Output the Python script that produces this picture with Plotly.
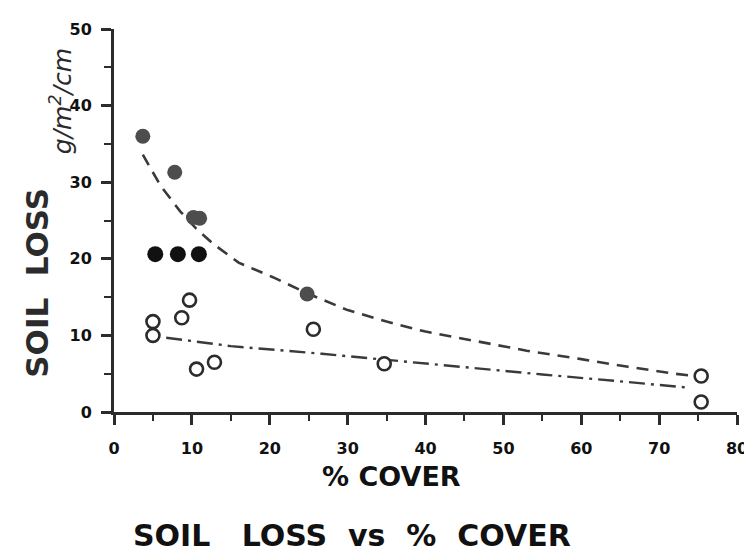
import plotly.graph_objects as go

# puntos llenos (gris) y llenos (negro)
full_grey_x = [3.7, 7.8, 10.2, 11.0, 24.8]
full_grey_y = [36.0, 31.3, 25.4, 25.3, 15.4]
full_black_x = [5.3, 8.2, 10.9]
full_black_y = [20.6, 20.6, 20.6]

# puntos abiertos
open_x = [9.7, 8.7, 5.0, 5.0, 10.6, 12.9, 25.6, 34.7, 75.4, 75.4]
open_y = [14.6, 12.3, 11.8, 10.0, 5.6, 6.5, 10.8, 6.3, 4.7, 1.3]

# curva de trazos
dash_x = [3.7, 6, 8.5, 10.5, 12.8, 16, 20.4, 24.8, 30, 35, 40, 47, 53, 60, 66, 72, 75.4]
dash_y = [33.6, 29.5, 26.2, 24.0, 21.9, 19.5, 17.6, 15.5, 13.3, 11.8, 10.5, 9.1, 8.0, 6.9, 5.9, 5.0, 4.6]

# curva punto-raya
dashdot_x = [6.7, 15, 26.7, 36, 45, 55, 65, 73.5]
dashdot_y = [9.7, 8.6, 7.6, 6.7, 5.9, 4.9, 4.0, 3.2]

x_ticks = [0, 10, 20, 30, 40, 50, 60, 70, 80]
y_ticks = [0, 10, 20, 30, 40, 50]

ink = '#2b2b2b'
fnt = 'DejaVu Sans'
nb = '\u00a0'

fig = go.Figure()
fig.add_trace(go.Scatter(x=dash_x, y=dash_y, mode='lines',
                         line=dict(color='#3a3a3a', width=2.6, dash='12px,8px')))
fig.add_trace(go.Scatter(x=dashdot_x, y=dashdot_y, mode='lines',
                         line=dict(color='#3a3a3a', width=2.4, dash='16px,6px,3px,6px')))
fig.add_trace(go.Scatter(x=full_grey_x, y=full_grey_y, mode='markers',
                         marker=dict(size=15, color='#4d4d4d', line=dict(width=0))))
fig.add_trace(go.Scatter(x=full_black_x, y=full_black_y, mode='markers',
                         marker=dict(size=16, color='#111111', line=dict(width=0))))
fig.add_trace(go.Scatter(x=open_x, y=open_y, mode='markers',
                         marker=dict(size=13, color='white', line=dict(width=2.6, color=ink))))

fig.update_layout(
    width=752, height=556,
    margin=dict(l=106, r=14, t=14, b=152),
    paper_bgcolor='white', plot_bgcolor='white',
    showlegend=False,
    font=dict(family=fnt, color=ink),
    xaxis=dict(
        range=[0, 80], tickvals=x_ticks, ticks='outside', ticklen=10, tickwidth=2.5,
        tickcolor=ink, showline=True, linewidth=3, linecolor=ink, showgrid=False,
        zeroline=False, ticklabelstandoff=10,
        tickfont=dict(family=fnt, size=16, color='#111', weight='bold'),
        minor=dict(dtick=5, ticks='outside', ticklen=6, tickwidth=2, tickcolor=ink),
    ),
    yaxis=dict(
        range=[0, 50], tickvals=y_ticks, ticks='outside', ticklen=10, tickwidth=2.5,
        tickcolor=ink, showline=True, linewidth=3, linecolor=ink, showgrid=False,
        zeroline=False, ticklabelstandoff=6,
        tickfont=dict(family=fnt, size=16, color='#111', weight='bold'),
        minor=dict(dtick=5, ticks='outside', ticklen=7, tickwidth=2, tickcolor=ink),
    ),
)

fig.add_annotation(text='SOIL' + nb * 2 + 'LOSS', textangle=-90, xref='paper', yref='paper',
                   x=-98/632, y=(404-272)/390, xanchor='left', yanchor='middle',
                   showarrow=False, font=dict(family=fnt, size=31, color=ink, weight='bold'))
fig.add_annotation(text='<i>g/m<sup>2</sup>/cm</i>', textangle=-90, xref='paper', yref='paper',
                   x=-72/632, y=(404-88)/390, xanchor='left', yanchor='middle',
                   showarrow=False, font=dict(family=fnt, size=25, color=ink))
fig.add_annotation(text='%' + nb + 'COVER', xref='paper', yref='paper',
                   x=(388-106)/632, y=-(470-404)/390, xanchor='center', yanchor='middle',
                   showarrow=False, font=dict(family=fnt, size=27, color='#111', weight='bold'))
fig.add_annotation(text='SOIL' + nb * 3 + 'LOSS' + nb * 2 + 'vs' + nb * 2 + '%' + nb * 2 + 'COVER',
                   xref='paper', yref='paper',
                   x=(347-106)/632, y=-(530-404)/390, xanchor='center', yanchor='middle',
                   showarrow=False, font=dict(family=fnt, size=30, color='#111', weight='bold'))

fig.write_html("out.html")
